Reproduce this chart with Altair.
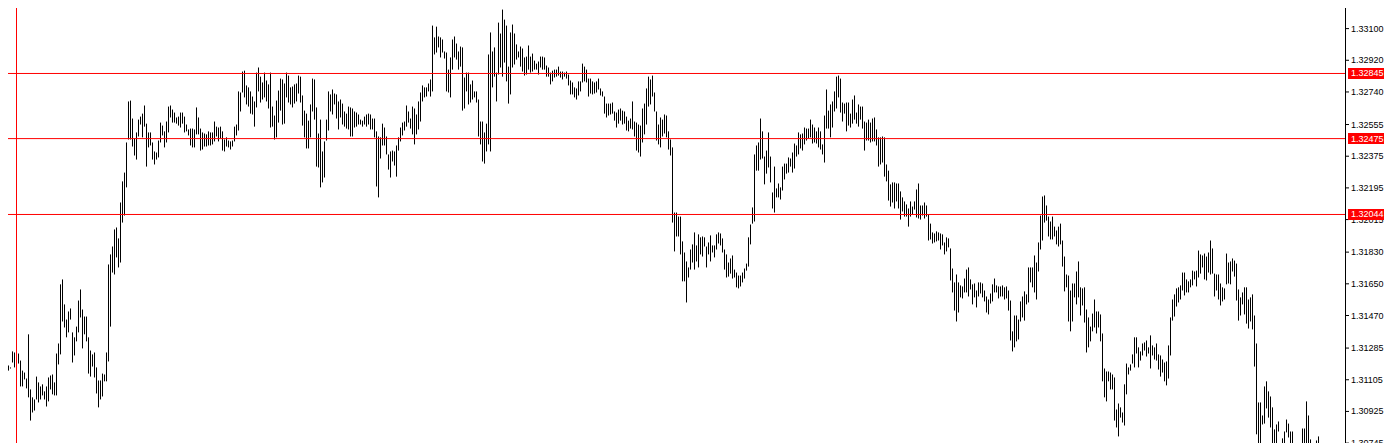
import altair as alt
import pandas as pd

# Bar highs / lows (EURUSD-style price chart), one value per bar, left to right
HIGH = [
    1.31209, 1.31186, 1.31175, 1.31180, 1.31186, 1.31175, 1.31266, 1.31260, 1.31260, 1.31254, 1.31214, 1.31157, 1.31146, 1.31112,
    1.31363, 1.31050, 1.31005, 1.30993, 1.31123, 1.31090, 1.31067, 1.31079, 1.31039, 1.31067, 1.31118, 1.31129, 1.31135, 1.31090,
    1.31254, 1.31311, 1.31647, 1.31675, 1.31533, 1.31447, 1.31493, 1.31510, 1.31374, 1.31346, 1.31407, 1.31555, 1.31618, 1.31504,
    1.31464, 1.31464, 1.31346, 1.31271, 1.31249, 1.31260, 1.31175, 1.31101, 1.31101, 1.31140, 1.31135, 1.31260, 1.31760, 1.31817,
    1.31862, 1.31959, 1.31970, 1.31908, 1.32112, 1.32232, 1.32282, 1.32453, 1.32686, 1.32691, 1.32589, 1.32476, 1.32510, 1.32583,
    1.32600, 1.32617, 1.32663, 1.32560, 1.32510, 1.32510, 1.32453, 1.32402, 1.32396, 1.32464, 1.32566, 1.32549, 1.32516, 1.32572,
    1.32657, 1.32663, 1.32640, 1.32623, 1.32595, 1.32600, 1.32623, 1.32623, 1.32600, 1.32555, 1.32527, 1.32532, 1.32532, 1.32527,
    1.32652, 1.32595, 1.32532, 1.32510, 1.32504, 1.32499, 1.32516, 1.32510, 1.32510, 1.32572, 1.32543, 1.32538, 1.32543, 1.32516,
    1.32470, 1.32482, 1.32464, 1.32459, 1.32464, 1.32543, 1.32555, 1.32743, 1.32737, 1.32856, 1.32861, 1.32777, 1.32766, 1.32743,
    1.32714, 1.32686, 1.32850, 1.32879, 1.32827, 1.32794, 1.32850, 1.32805, 1.32783, 1.32850, 1.32657, 1.32606, 1.32691, 1.32748,
    1.32816, 1.32811, 1.32788, 1.32850, 1.32833, 1.32766, 1.32771, 1.32783, 1.32788, 1.32833, 1.32827, 1.32720, 1.32634, 1.32617,
    1.32577, 1.32669, 1.32816, 1.32811, 1.32652, 1.32504, 1.32583, 1.32402, 1.32459, 1.32583, 1.32743, 1.32726, 1.32754, 1.32731,
    1.32726, 1.32686, 1.32697, 1.32674, 1.32629, 1.32617, 1.32657, 1.32652, 1.32646, 1.32629, 1.32623, 1.32612, 1.32583, 1.32577,
    1.32600, 1.32612, 1.32617, 1.32612, 1.32589, 1.32589, 1.32516, 1.32487, 1.32482, 1.32560, 1.32538, 1.32487, 1.32385, 1.32402,
    1.32407, 1.32402, 1.32436, 1.32482, 1.32538, 1.32566, 1.32572, 1.32663, 1.32629, 1.32589, 1.32657, 1.32646, 1.32612, 1.32686,
    1.32737, 1.32777, 1.32766, 1.32766, 1.32788, 1.32811, 1.33117, 1.33050, 1.33111, 1.33055, 1.33050, 1.33038, 1.32970, 1.32964,
    1.32867, 1.32936, 1.33038, 1.33055, 1.33015, 1.32970, 1.32998, 1.32993, 1.32822, 1.32850, 1.32850, 1.32783, 1.32805, 1.32743,
    1.32743, 1.32697, 1.32572, 1.32572, 1.32510, 1.32560, 1.32953, 1.33078, 1.32970, 1.32993, 1.32850, 1.33134, 1.33072, 1.33208,
    1.33151, 1.33117, 1.32884, 1.33078, 1.33123, 1.33072, 1.33010, 1.32970, 1.32998, 1.32987, 1.32936, 1.32941, 1.33004, 1.32941,
    1.32958, 1.32918, 1.32901, 1.32913, 1.32941, 1.32941, 1.32936, 1.32890, 1.32879, 1.32850, 1.32861, 1.32867, 1.32867, 1.32884,
    1.32856, 1.32856, 1.32850, 1.32856, 1.32839, 1.32805, 1.32794, 1.32766, 1.32760, 1.32800, 1.32800, 1.32901, 1.32884, 1.32867,
    1.32816, 1.32816, 1.32800, 1.32794, 1.32800, 1.32816, 1.32760, 1.32743, 1.32714, 1.32674, 1.32674, 1.32674, 1.32680, 1.32629,
    1.32623, 1.32640, 1.32646, 1.32634, 1.32629, 1.32600, 1.32577, 1.32589, 1.32686, 1.32572, 1.32566, 1.32555, 1.32549, 1.32646,
    1.32674, 1.32760, 1.32827, 1.32811, 1.32833, 1.32737, 1.32629, 1.32555, 1.32595, 1.32583, 1.32612, 1.32606, 1.32516, 1.32470,
    1.32425, 1.32055, 1.32055, 1.32032, 1.32032, 1.31891, 1.31828, 1.31777, 1.31743, 1.31845, 1.31874, 1.31942, 1.31868, 1.31931,
    1.31914, 1.31919, 1.31914, 1.31862, 1.31885, 1.31925, 1.31868, 1.31868, 1.31931, 1.31942, 1.31936, 1.31908, 1.31845, 1.31817,
    1.31771, 1.31794, 1.31811, 1.31731, 1.31714, 1.31697, 1.31697, 1.31714, 1.31737, 1.31765, 1.31914, 1.31987, 1.32084, 1.32385,
    1.32436, 1.32453, 1.32589, 1.32516, 1.32373, 1.32407, 1.32510, 1.32373, 1.32169, 1.32316, 1.32192, 1.32220, 1.32198, 1.32316,
    1.32333, 1.32333, 1.32368, 1.32362, 1.32396, 1.32447, 1.32436, 1.32510, 1.32499, 1.32504, 1.32538, 1.32532, 1.32532, 1.32583,
    1.32555, 1.32538, 1.32516, 1.32538, 1.32516, 1.32442, 1.32606, 1.32754, 1.32634, 1.32669, 1.32686, 1.32743, 1.32827, 1.32833,
    1.32816, 1.32680, 1.32674, 1.32680, 1.32680, 1.32617, 1.32697, 1.32720, 1.32623, 1.32669, 1.32657, 1.32657, 1.32572, 1.32566,
    1.32583, 1.32566, 1.32589, 1.32595, 1.32527, 1.32482, 1.32482, 1.32487, 1.32482, 1.32328, 1.32293, 1.32215, 1.32226, 1.32226,
    1.32220, 1.32220, 1.32175, 1.32141, 1.32118, 1.32101, 1.32078, 1.32118, 1.32089, 1.32118, 1.32186, 1.32220, 1.32095, 1.32095,
    1.32112, 1.32095, 1.32044, 1.31992, 1.31942, 1.31936, 1.31948, 1.31942, 1.31936, 1.31931, 1.31885, 1.31914, 1.31908, 1.31851,
    1.31737, 1.31658, 1.31703, 1.31658, 1.31641, 1.31635, 1.31680, 1.31731, 1.31743, 1.31675, 1.31647, 1.31652, 1.31612, 1.31658,
    1.31658, 1.31652, 1.31612, 1.31578, 1.31561, 1.31595, 1.31647, 1.31680, 1.31641, 1.31635, 1.31635, 1.31641, 1.31630, 1.31635,
    1.31612, 1.31555, 1.31380, 1.31470, 1.31470, 1.31447, 1.31550, 1.31578, 1.31607, 1.31590, 1.31743, 1.31743, 1.31743, 1.31811,
    1.31771, 1.31885, 1.32038, 1.32146, 1.32152, 1.32095, 1.32032, 1.32004, 1.32032, 1.31975, 1.31953, 1.31975, 1.31992, 1.31896,
    1.31805, 1.31703, 1.31697, 1.31612, 1.31652, 1.31652, 1.31720, 1.31777, 1.31630, 1.31624, 1.31630, 1.31504, 1.31459, 1.31407,
    1.31481, 1.31561, 1.31493, 1.31493, 1.31476, 1.31368, 1.31169, 1.31152, 1.31152, 1.31146, 1.31135, 1.31118, 1.30936, 1.30970,
    1.30948, 1.30919, 1.31079, 1.31197, 1.31175, 1.31192, 1.31249, 1.31346, 1.31346, 1.31289, 1.31266, 1.31311, 1.31317, 1.31328,
    1.31289, 1.31357, 1.31300, 1.31289, 1.31311, 1.31249, 1.31243, 1.31220, 1.31203, 1.31209, 1.31300, 1.31459, 1.31561, 1.31590,
    1.31624, 1.31630, 1.31641, 1.31714, 1.31714, 1.31675, 1.31664, 1.31675, 1.31725, 1.31720, 1.31725, 1.31839, 1.31817, 1.31811,
    1.31822, 1.31805, 1.31828, 1.31896, 1.31851, 1.31708, 1.31703, 1.31703, 1.31652, 1.31630, 1.31624, 1.31822, 1.31771, 1.31777,
    1.31794, 1.31782, 1.31765, 1.31618, 1.31573, 1.31601, 1.31630, 1.31630, 1.31561, 1.31573, 1.31590, 1.31470, 1.31311, 1.30976,
    1.30976, 1.30902, 1.31067, 1.31096, 1.31039, 1.31010, 1.30948, 1.30823, 1.30851, 1.30868, 1.30737, 1.30772, 1.30811, 1.30879,
    1.30856, 1.30811, 1.30811, 1.30732, 1.30709, 1.30726, 1.30732, 1.30828, 1.30828, 1.30982, 1.30902, 1.30766, 1.30737, 1.30732,
    1.30760, 1.30783,
]

LOW = [
    1.31090, 1.31152, 1.31169, 1.31152, 1.31157, 1.31169, 1.31203, 1.31175, 1.31180, 1.31197, 1.31067, 1.31067, 1.31107, 1.31056,
    1.31005, 1.30873, 1.30919, 1.30930, 1.30993, 1.30976, 1.30993, 1.31016, 1.30993, 1.30953, 1.30982, 1.31050, 1.31022, 1.31016,
    1.31016, 1.31192, 1.31249, 1.31436, 1.31402, 1.31346, 1.31374, 1.31447, 1.31203, 1.31243, 1.31323, 1.31374, 1.31459, 1.31283,
    1.31363, 1.31323, 1.31140, 1.31123, 1.31180, 1.31118, 1.31027, 1.30948, 1.30993, 1.31010, 1.31096, 1.31096, 1.31209, 1.31407,
    1.31714, 1.31703, 1.31800, 1.31743, 1.31771, 1.31998, 1.32038, 1.32198, 1.32470, 1.32470, 1.32430, 1.32379, 1.32356, 1.32487,
    1.32555, 1.32482, 1.32543, 1.32316, 1.32425, 1.32436, 1.32356, 1.32328, 1.32356, 1.32368, 1.32453, 1.32493, 1.32425, 1.32453,
    1.32510, 1.32595, 1.32566, 1.32566, 1.32560, 1.32549, 1.32538, 1.32560, 1.32510, 1.32516, 1.32493, 1.32436, 1.32425, 1.32425,
    1.32499, 1.32499, 1.32407, 1.32413, 1.32430, 1.32430, 1.32436, 1.32436, 1.32442, 1.32459, 1.32487, 1.32459, 1.32476, 1.32407,
    1.32402, 1.32430, 1.32425, 1.32413, 1.32430, 1.32459, 1.32493, 1.32521, 1.32629, 1.32737, 1.32709, 1.32669, 1.32657, 1.32617,
    1.32612, 1.32543, 1.32652, 1.32743, 1.32680, 1.32697, 1.32709, 1.32686, 1.32646, 1.32538, 1.32543, 1.32470, 1.32482, 1.32566,
    1.32634, 1.32555, 1.32560, 1.32709, 1.32680, 1.32669, 1.32652, 1.32674, 1.32686, 1.32731, 1.32680, 1.32549, 1.32482, 1.32419,
    1.32419, 1.32482, 1.32629, 1.32583, 1.32316, 1.32311, 1.32198, 1.32226, 1.32254, 1.32464, 1.32521, 1.32629, 1.32612, 1.32669,
    1.32589, 1.32527, 1.32595, 1.32555, 1.32543, 1.32532, 1.32527, 1.32487, 1.32487, 1.32538, 1.32543, 1.32555, 1.32555, 1.32543,
    1.32555, 1.32543, 1.32555, 1.32527, 1.32527, 1.32482, 1.32203, 1.32141, 1.32362, 1.32436, 1.32436, 1.32385, 1.32299, 1.32254,
    1.32345, 1.32322, 1.32259, 1.32407, 1.32459, 1.32493, 1.32521, 1.32543, 1.32566, 1.32532, 1.32499, 1.32442, 1.32499, 1.32527,
    1.32572, 1.32686, 1.32709, 1.32714, 1.32743, 1.32714, 1.32743, 1.32953, 1.32964, 1.32993, 1.32936, 1.32964, 1.32930, 1.32743,
    1.32737, 1.32709, 1.32867, 1.32936, 1.32924, 1.32867, 1.32884, 1.32634, 1.32646, 1.32743, 1.32669, 1.32680, 1.32697, 1.32709,
    1.32680, 1.32487, 1.32442, 1.32345, 1.32333, 1.32402, 1.32442, 1.32402, 1.32766, 1.32827, 1.32686, 1.32839, 1.32879, 1.32827,
    1.32907, 1.32800, 1.32674, 1.32726, 1.32879, 1.32896, 1.32924, 1.32936, 1.32884, 1.32856, 1.32833, 1.32839, 1.32867, 1.32850,
    1.32856, 1.32867, 1.32867, 1.32839, 1.32879, 1.32867, 1.32867, 1.32827, 1.32827, 1.32783, 1.32800, 1.32822, 1.32827, 1.32833,
    1.32822, 1.32811, 1.32827, 1.32816, 1.32777, 1.32726, 1.32726, 1.32709, 1.32697, 1.32720, 1.32743, 1.32794, 1.32800, 1.32794,
    1.32714, 1.32731, 1.32726, 1.32731, 1.32737, 1.32754, 1.32720, 1.32714, 1.32617, 1.32595, 1.32606, 1.32612, 1.32617, 1.32577,
    1.32538, 1.32560, 1.32577, 1.32555, 1.32560, 1.32521, 1.32516, 1.32532, 1.32527, 1.32487, 1.32407, 1.32396, 1.32373, 1.32453,
    1.32499, 1.32555, 1.32657, 1.32669, 1.32714, 1.32629, 1.32464, 1.32442, 1.32425, 1.32487, 1.32504, 1.32482, 1.32413, 1.32379,
    1.31998, 1.31834, 1.31919, 1.31919, 1.31817, 1.31664, 1.31664, 1.31544, 1.31686, 1.31731, 1.31771, 1.31731, 1.31777, 1.31743,
    1.31817, 1.31805, 1.31862, 1.31743, 1.31817, 1.31777, 1.31828, 1.31800, 1.31845, 1.31879, 1.31868, 1.31828, 1.31731, 1.31686,
    1.31691, 1.31708, 1.31680, 1.31686, 1.31630, 1.31624, 1.31635, 1.31658, 1.31680, 1.31725, 1.31748, 1.31874, 1.31992, 1.32004,
    1.32293, 1.32293, 1.32356, 1.32362, 1.32215, 1.32276, 1.32311, 1.32226, 1.32078, 1.32055, 1.32141, 1.32141, 1.32129, 1.32180,
    1.32243, 1.32276, 1.32282, 1.32316, 1.32282, 1.32305, 1.32373, 1.32385, 1.32419, 1.32407, 1.32442, 1.32464, 1.32476, 1.32482,
    1.32447, 1.32453, 1.32447, 1.32425, 1.32413, 1.32385, 1.32339, 1.32532, 1.32532, 1.32482, 1.32538, 1.32629, 1.32646, 1.32709,
    1.32623, 1.32572, 1.32617, 1.32516, 1.32549, 1.32538, 1.32560, 1.32583, 1.32560, 1.32543, 1.32583, 1.32532, 1.32407, 1.32464,
    1.32464, 1.32453, 1.32459, 1.32459, 1.32436, 1.32316, 1.32328, 1.32339, 1.32259, 1.32232, 1.32123, 1.32089, 1.32112, 1.32078,
    1.32118, 1.32078, 1.32015, 1.32061, 1.32032, 1.32032, 1.31975, 1.32032, 1.32044, 1.32072, 1.32027, 1.32021, 1.32015, 1.32038,
    1.32021, 1.32032, 1.31896, 1.31902, 1.31879, 1.31885, 1.31891, 1.31896, 1.31845, 1.31868, 1.31817, 1.31834, 1.31857, 1.31669,
    1.31601, 1.31498, 1.31436, 1.31487, 1.31573, 1.31567, 1.31601, 1.31601, 1.31578, 1.31618, 1.31533, 1.31573, 1.31516, 1.31578,
    1.31595, 1.31573, 1.31550, 1.31487, 1.31476, 1.31538, 1.31550, 1.31601, 1.31601, 1.31567, 1.31578, 1.31578, 1.31561, 1.31567,
    1.31498, 1.31328, 1.31266, 1.31289, 1.31323, 1.31334, 1.31436, 1.31459, 1.31441, 1.31533, 1.31544, 1.31658, 1.31630, 1.31601,
    1.31561, 1.31720, 1.31845, 1.31896, 1.31998, 1.32009, 1.31919, 1.31902, 1.31902, 1.31919, 1.31874, 1.31862, 1.31874, 1.31748,
    1.31607, 1.31630, 1.31436, 1.31380, 1.31436, 1.31573, 1.31533, 1.31573, 1.31470, 1.31527, 1.31430, 1.31260, 1.31289, 1.31323,
    1.31380, 1.31402, 1.31368, 1.31402, 1.31323, 1.31096, 1.31005, 1.30982, 1.31096, 1.31050, 1.31050, 1.30873, 1.30834, 1.30783,
    1.30890, 1.30862, 1.30845, 1.31022, 1.31135, 1.31157, 1.31197, 1.31175, 1.31254, 1.31175, 1.31214, 1.31243, 1.31271, 1.31237,
    1.31254, 1.31169, 1.31243, 1.31220, 1.31214, 1.31163, 1.31123, 1.31146, 1.31096, 1.31073, 1.31112, 1.31243, 1.31441, 1.31464,
    1.31521, 1.31544, 1.31561, 1.31612, 1.31584, 1.31601, 1.31601, 1.31630, 1.31641, 1.31675, 1.31635, 1.31686, 1.31708, 1.31743,
    1.31675, 1.31669, 1.31714, 1.31703, 1.31708, 1.31578, 1.31612, 1.31561, 1.31527, 1.31550, 1.31561, 1.31647, 1.31652, 1.31647,
    1.31720, 1.31691, 1.31555, 1.31441, 1.31470, 1.31533, 1.31476, 1.31424, 1.31396, 1.31436, 1.31391, 1.31180, 1.30795, 1.30681,
    1.30652, 1.30851, 1.30856, 1.30942, 1.30890, 1.30834, 1.30709, 1.30681, 1.30709, 1.30811, 1.30681, 1.30698, 1.30720, 1.30806,
    1.30777, 1.30709, 1.30720, 1.30664, 1.30641, 1.30669, 1.30658, 1.30709, 1.30720, 1.30737, 1.30709, 1.30698, 1.30675, 1.30664,
    1.30698, 1.30720,
]

assert len(HIGH) == len(LOW), (len(HIGH), len(LOW))

# Horizontal price levels drawn on the chart, and the vertical marker line (bar index)
LEVELS = [1.32845, 1.32475, 1.32044]
LEVEL_LABELS = ["1.32845", "1.32475", "1.32044"]
VLINE_BARS = [8]

# Price-axis tick labels
TICKS = [1.33100, 1.32920, 1.32740, 1.32555, 1.32375, 1.32195, 1.32015,
         1.31830, 1.31650, 1.31470, 1.31285, 1.31105, 1.30925, 1.30745]

Y_DOMAIN = [1.30740, 1.33217]
X_DOMAIN = [3.75, 672.25]

W, H = 1337, 436
FONT = "Liberation Sans"
FS = 9
RED = "#ff0000"

bars = pd.DataFrame({"bar": list(range(len(HIGH))), "high": HIGH, "low": LOW})
levels = pd.DataFrame({"price": LEVELS, "label": LEVEL_LABELS})
vlines = pd.DataFrame({"bar": VLINE_BARS})
ticks = pd.DataFrame({"price": TICKS, "label": [f"{t:.5f}" for t in TICKS]})

xscale = alt.Scale(domain=X_DOMAIN, nice=False, zero=False)
yscale = alt.Scale(domain=Y_DOMAIN, nice=False, zero=False)


def Y(field):
    return alt.Y(field, scale=yscale, axis=None)


ohlc = alt.Chart(bars).mark_rule(color="black", strokeWidth=1).encode(
    x=alt.X("bar:Q", scale=xscale, axis=None),
    y=Y("high:Q"),
    y2="low:Q",
)

vline = alt.Chart(vlines).mark_rule(color=RED, strokeWidth=1).encode(
    x=alt.X("bar:Q", scale=xscale, axis=None),
)

# price scale on the right: axis line, tick marks and labels
axis_line = alt.Chart(ticks).mark_rule(color="black", strokeWidth=1).encode(
    x=alt.value(W + 0.5), y=alt.value(-10), y2=alt.value(H + 10),
)
tick_marks = alt.Chart(ticks).mark_rule(color="black", strokeWidth=1).encode(
    x=alt.value(W + 1), x2=alt.value(W + 4), y=Y("price:Q"),
)
tick_labels = alt.Chart(ticks).mark_text(
    align="left", baseline="middle", color="black", font=FONT, fontSize=FS,
).encode(x=alt.value(W + 6), y=Y("price:Q"), text="label:N")

tag_box = alt.Chart(levels).mark_rule(color=RED, strokeWidth=11, strokeCap="butt").encode(
    x=alt.value(W + 3), x2=alt.value(W + 39), y=Y("price:Q"),
)

tag_text = alt.Chart(levels).mark_text(
    align="left", baseline="middle", color="white", font=FONT, fontSize=FS,
).encode(x=alt.value(W + 6), y=Y("price:Q"), text="label:N")

# horizontal level lines across the plot, drawn above the bars
hlines = alt.Chart(levels).mark_rule(color=RED, strokeWidth=1).encode(
    x=alt.value(0), x2=alt.value(W), y=Y("price:Q"),
)

chart = alt.layer(
    ohlc, vline, axis_line, tick_marks, tick_labels, tag_box, tag_text, hlines
).properties(
    width=W, height=H,
    autosize=alt.AutoSizeParams(type="none"),
    padding={"left": 0, "top": 0, "right": 39, "bottom": 0},
    background="white",
).configure_view(strokeWidth=0)

chart.save("out.html", embed_options={"renderer": "svg", "actions": False})
